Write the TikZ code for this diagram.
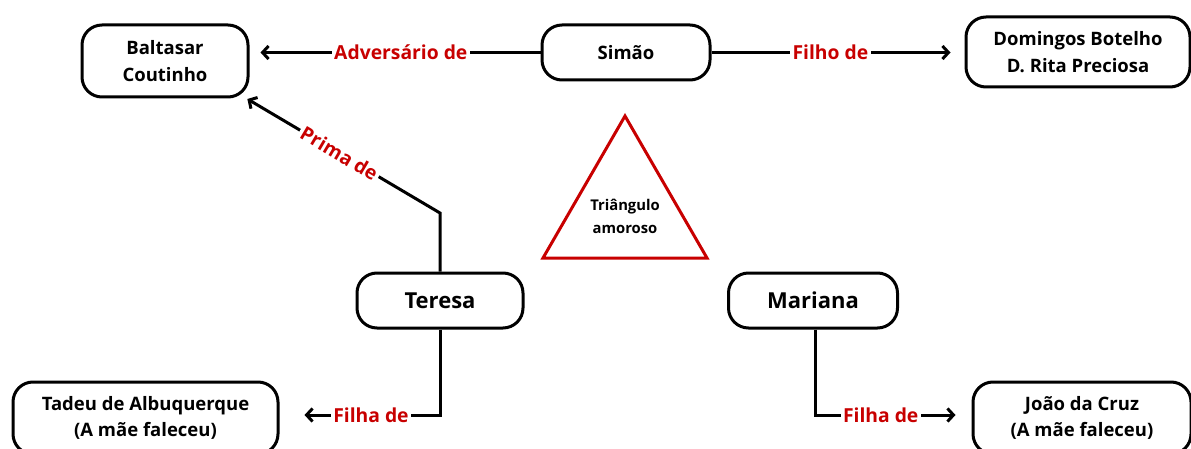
\documentclass[tikz,border=0pt]{standalone}
\usepackage{fontspec}
\setmainfont{Open Sans}
\usetikzlibrary{arrows.meta}
\definecolor{lblred}{RGB}{200,0,0}
\begin{document}
\begin{tikzpicture}[x=1pt,y=-1pt,
  box/.style={draw=black,line width=3pt,rounded corners=20pt,fill=white,
    align=center,font=\fontsize{18.5}{26.5}\selectfont\bfseries,inner sep=0pt},
  bigbox/.style={box,font=\fontsize{22}{26}\selectfont\bfseries},
  conn/.style={draw=black,line width=3pt},
  arr/.style={conn,-{Straight Barb[length=6pt,width=13pt,line width=3pt]}},
  lbl/.style={fill=white,text=lblred,font=\fontsize{19.3}{23}\selectfont\bfseries,inner sep=2.5pt},
  tri/.style={draw=lblred,line width=3pt,line join=miter}
]
\useasboundingbox (0,0) rectangle (1191,449);
\fill[white] (0,0) rectangle (1191,449);
\begin{scope}
\clip (0,0) rectangle (1191,449);
\node[box,minimum width=166pt,minimum height=72pt] (bal) at (165,61) {Baltasar\\Coutinho};
\node[box,minimum width=168pt,minimum height=55pt] (sim) at (626,52.5) {Simão};
\node[box,minimum width=224pt,minimum height=70pt] (dom) at (1078,52) {Domingos Botelho\\D. Rita Preciosa};
\node[bigbox,minimum width=166pt,minimum height=55pt] (ter) at (440,300.5) {Teresa};
\node[bigbox,minimum width=169pt,minimum height=55pt] (mar) at (813,300.5) {Mariana};
\node[box,minimum width=265pt,minimum height=72pt] (tad) at (145.5,418) {Tadeu de Albuquerque\\(A mãe faleceu)};
\node[box,minimum width=218pt,minimum height=72pt] (joa) at (1082,418) {João da Cruz\\(A mãe faleceu)};

\draw[tri] (625,116) coordinate (ta) -- (707,258) coordinate (tr) -- (543,258) coordinate (tl) -- cycle;
\node[align=center,font=\fontsize{14.8}{23}\selectfont\bfseries,inner sep=0pt] (tlab) at (625,216) {Triângulo\\amoroso};

\draw[arr,shorten >=11pt] (sim.west) -- node[lbl,pos=0.48] (l1) {Adversário de} (sim.west -| bal.east);
\draw[arr,shorten >=14pt] (sim.east) -- node[lbl,pos=0.47] (l2) {Filho de} (sim.east -| dom.west);
\coordinate (tc) at (440,213);
\draw[arr,shorten >=1pt] (ter.north) -- (tc) -- node[lbl,sloped,pos=0.52] (l3) {Prima de} ([xshift=-3pt]bal.south east);
\coordinate (tb) at (440,415);
\draw[arr,shorten >=25pt] (ter.south) -- (tb) -- node[lbl,pos=0.43] (l4) {Filha de} (tb -| tad.east);
\coordinate (mb) at (815,415);
\draw[arr,shorten >=16pt] (mar.south -| mb) -- (mb) -- node[lbl,pos=0.42] (l5) {Filha de} (mb -| joa.west);
\end{scope}
\end{tikzpicture}
\end{document}
